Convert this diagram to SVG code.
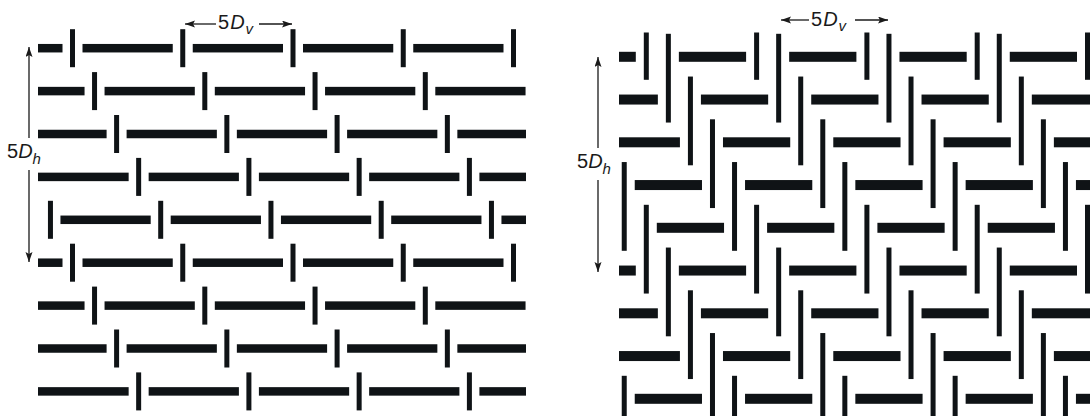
<svg xmlns="http://www.w3.org/2000/svg" xmlns:xlink="http://www.w3.org/1999/xlink" width="1090" height="416" viewBox="0 0 1090 416">
<style>
  .b { fill: #0f1316; }
  .ln { stroke: #1a1a1a; stroke-width: 1.3; fill: none; }
  .lbl { font-family: "Liberation Sans", Arial, sans-serif; font-size: 20px; fill: #1a1a1a; }
  .it { font-style: italic; }
  .sub { font-size: 15px; font-style: italic; }
</style>
<defs>
  <marker id="ah" markerUnits="userSpaceOnUse" markerWidth="11" markerHeight="8" refX="10" refY="3.5" orient="auto">
    <path d="M0,0 L10,3.5 L0,7 L2,3.5 Z" fill="#1a1a1a"/>
  </marker>
  <g id="LB0" class="b">
    <rect x="38" y="-4.25" width="24.5" height="8.5"/>
    <rect x="82.5" y="-4.25" width="90.25" height="8.5"/>
    <rect x="192.75" y="-4.25" width="90.25" height="8.5"/>
    <rect x="303" y="-4.25" width="90.25" height="8.5"/>
    <rect x="413.25" y="-4.25" width="90.25" height="8.5"/>
    <rect x="70" y="-19" width="5" height="38"/>
    <rect x="180.25" y="-19" width="5" height="38"/>
    <rect x="290.5" y="-19" width="5" height="38"/>
    <rect x="400.75" y="-19" width="5" height="38"/>
    <rect x="511" y="-19" width="5" height="38"/>
  </g>
  <g id="LB1" class="b">
    <rect x="38" y="-4.25" width="46.55" height="8.5"/>
    <rect x="104.55" y="-4.25" width="90.25" height="8.5"/>
    <rect x="214.8" y="-4.25" width="90.25" height="8.5"/>
    <rect x="325.05" y="-4.25" width="90.25" height="8.5"/>
    <rect x="435.3" y="-4.25" width="90.25" height="8.5"/>
    <rect x="92.05" y="-19" width="5" height="38"/>
    <rect x="202.3" y="-19" width="5" height="38"/>
    <rect x="312.55" y="-19" width="5" height="38"/>
    <rect x="422.8" y="-19" width="5" height="38"/>
  </g>
  <g id="LB2" class="b">
    <rect x="38" y="-4.25" width="68.6" height="8.5"/>
    <rect x="126.6" y="-4.25" width="90.25" height="8.5"/>
    <rect x="236.85" y="-4.25" width="90.25" height="8.5"/>
    <rect x="347.1" y="-4.25" width="90.25" height="8.5"/>
    <rect x="457.35" y="-4.25" width="68.65" height="8.5"/>
    <rect x="114.1" y="-19" width="5" height="38"/>
    <rect x="224.35" y="-19" width="5" height="38"/>
    <rect x="334.6" y="-19" width="5" height="38"/>
    <rect x="444.85" y="-19" width="5" height="38"/>
  </g>
  <g id="LB3" class="b">
    <rect x="38" y="-4.25" width="90.65" height="8.5"/>
    <rect x="148.65" y="-4.25" width="90.25" height="8.5"/>
    <rect x="258.9" y="-4.25" width="90.25" height="8.5"/>
    <rect x="369.15" y="-4.25" width="90.25" height="8.5"/>
    <rect x="479.4" y="-4.25" width="46.6" height="8.5"/>
    <rect x="136.15" y="-19" width="5" height="38"/>
    <rect x="246.4" y="-19" width="5" height="38"/>
    <rect x="356.65" y="-19" width="5" height="38"/>
    <rect x="466.9" y="-19" width="5" height="38"/>
  </g>
  <g id="LB4" class="b">
    <rect x="60.45" y="-4.25" width="90.25" height="8.5"/>
    <rect x="170.7" y="-4.25" width="90.25" height="8.5"/>
    <rect x="280.95" y="-4.25" width="90.25" height="8.5"/>
    <rect x="391.2" y="-4.25" width="90.25" height="8.5"/>
    <rect x="501.45" y="-4.25" width="24.55" height="8.5"/>
    <rect x="47.95" y="-19" width="5" height="38"/>
    <rect x="158.2" y="-19" width="5" height="38"/>
    <rect x="268.45" y="-19" width="5" height="38"/>
    <rect x="378.7" y="-19" width="5" height="38"/>
    <rect x="488.95" y="-19" width="5" height="38"/>
  </g>
  <g id="RB1" class="b">
    <rect x="619" y="-5" width="16.8" height="10"/>
    <rect x="678.86" y="-5" width="67.24" height="10"/>
    <rect x="789.16" y="-5" width="67.24" height="10"/>
    <rect x="899.46" y="-5" width="67.24" height="10"/>
    <rect x="1009.76" y="-5" width="67.24" height="10"/>
  </g>
  <g id="RB2" class="b">
    <rect x="619" y="-5" width="38.86" height="10"/>
    <rect x="700.92" y="-5" width="67.24" height="10"/>
    <rect x="811.22" y="-5" width="67.24" height="10"/>
    <rect x="921.52" y="-5" width="67.24" height="10"/>
    <rect x="1031.82" y="-5" width="58.18" height="10"/>
  </g>
  <g id="RB3" class="b">
    <rect x="619" y="-5" width="60.92" height="10"/>
    <rect x="722.98" y="-5" width="67.24" height="10"/>
    <rect x="833.28" y="-5" width="67.24" height="10"/>
    <rect x="943.58" y="-5" width="67.24" height="10"/>
    <rect x="1053.88" y="-5" width="36.12" height="10"/>
  </g>
  <g id="RB4" class="b">
    <rect x="634.74" y="-5" width="67.24" height="10"/>
    <rect x="745.04" y="-5" width="67.24" height="10"/>
    <rect x="855.34" y="-5" width="67.24" height="10"/>
    <rect x="965.64" y="-5" width="67.24" height="10"/>
    <rect x="1075.94" y="-5" width="14.06" height="10"/>
  </g>
  <g id="RB0" class="b">
    <rect x="656.8" y="-5" width="67.24" height="10"/>
    <rect x="767.1" y="-5" width="67.24" height="10"/>
    <rect x="877.4" y="-5" width="67.24" height="10"/>
    <rect x="987.7" y="-5" width="67.24" height="10"/>
  </g>
  <g id="RV0" class="b">
    <rect x="643.8" y="0" width="5" height="88.75"/>
    <rect x="754.1" y="0" width="5" height="88.75"/>
    <rect x="864.4" y="0" width="5" height="88.75"/>
    <rect x="974.7" y="0" width="5" height="88.75"/>
    <rect x="1085" y="0" width="5" height="88.75"/>
  </g>
  <g id="RV1" class="b">
    <rect x="665.86" y="0" width="5" height="88.75"/>
    <rect x="776.16" y="0" width="5" height="88.75"/>
    <rect x="886.46" y="0" width="5" height="88.75"/>
    <rect x="996.76" y="0" width="5" height="88.75"/>
  </g>
  <g id="RV2" class="b">
    <rect x="687.92" y="0" width="5" height="88.75"/>
    <rect x="798.22" y="0" width="5" height="88.75"/>
    <rect x="908.52" y="0" width="5" height="88.75"/>
    <rect x="1018.82" y="0" width="5" height="88.75"/>
  </g>
  <g id="RV3" class="b">
    <rect x="709.98" y="0" width="5" height="88.75"/>
    <rect x="820.28" y="0" width="5" height="88.75"/>
    <rect x="930.58" y="0" width="5" height="88.75"/>
    <rect x="1040.88" y="0" width="5" height="88.75"/>
  </g>
  <g id="RV4" class="b">
    <rect x="621.74" y="0" width="5" height="88.75"/>
    <rect x="732.04" y="0" width="5" height="88.75"/>
    <rect x="842.34" y="0" width="5" height="88.75"/>
    <rect x="952.64" y="0" width="5" height="88.75"/>
    <rect x="1062.94" y="0" width="5" height="88.75"/>
  </g>
</defs>

<rect x="0" y="0" width="1090" height="416" fill="#ffffff"/>

<g id="left-pattern">
  <use href="#LB0" y="48.2"/>
  <use href="#LB1" y="91.1"/>
  <use href="#LB2" y="134"/>
  <use href="#LB3" y="176.9"/>
  <use href="#LB4" y="219.8"/>
  <use href="#LB0" y="262.7"/>
  <use href="#LB1" y="305.6"/>
  <use href="#LB2" y="348.5"/>
  <use href="#LB3" y="391.4"/>
</g>

<g id="right-pattern">
  <g class="b">
    <rect x="643.8" y="32.5" width="5" height="47.3"/>
    <rect x="754.1" y="32.5" width="5" height="47.3"/>
    <rect x="864.4" y="32.5" width="5" height="47.3"/>
    <rect x="974.7" y="32.5" width="5" height="47.3"/>
    <rect x="1085" y="32.5" width="5" height="47.3"/>
  </g>
  <use href="#RV1" y="33.8"/>
  <use href="#RV2" y="76.55"/>
  <use href="#RV3" y="119.3"/>
  <use href="#RV4" y="162.05"/>
  <use href="#RV0" y="204.8"/>
  <use href="#RV1" y="247.55"/>
  <use href="#RV2" y="290.3"/>
  <use href="#RV3" y="333.05"/>
  <use href="#RV4" y="375.8"/>
  <use href="#RB1" y="56.8"/>
  <use href="#RB2" y="99.55"/>
  <use href="#RB3" y="142.3"/>
  <use href="#RB4" y="185.05"/>
  <use href="#RB0" y="227.8"/>
  <use href="#RB1" y="270.55"/>
  <use href="#RB2" y="313.3"/>
  <use href="#RB3" y="356.05"/>
  <use href="#RB4" y="398.8"/>
</g>

<g id="connectors">
  <line class="ln" x1="216" y1="24" x2="185" y2="24" marker-end="url(#ah)"/>
  <line class="ln" x1="259" y1="24" x2="292" y2="24" marker-end="url(#ah)"/>
  <line class="ln" x1="29" y1="138" x2="29" y2="47" marker-end="url(#ah)"/>
  <line class="ln" x1="29" y1="170" x2="29" y2="262" marker-end="url(#ah)"/>
  <line class="ln" x1="809" y1="20" x2="781" y2="20" marker-end="url(#ah)"/>
  <line class="ln" x1="855" y1="20" x2="888" y2="20" marker-end="url(#ah)"/>
  <line class="ln" x1="598" y1="148" x2="598" y2="57" marker-end="url(#ah)"/>
  <line class="ln" x1="598" y1="180" x2="598" y2="272" marker-end="url(#ah)"/>
</g>

<g id="labels">
  <text class="lbl" x="218" y="29">5<tspan class="it" dx="1">D</tspan><tspan class="sub" dx="1" dy="4.5">v</tspan></text>
  <text class="lbl" x="7" y="158">5<tspan class="it">D</tspan><tspan class="sub" dy="6">h</tspan></text>
  <text class="lbl" x="811" y="26">5<tspan class="it" dx="1">D</tspan><tspan class="sub" dx="1" dy="4.5">v</tspan></text>
  <text class="lbl" x="577" y="168">5<tspan class="it">D</tspan><tspan class="sub" dy="6">h</tspan></text>
</g>
</svg>
